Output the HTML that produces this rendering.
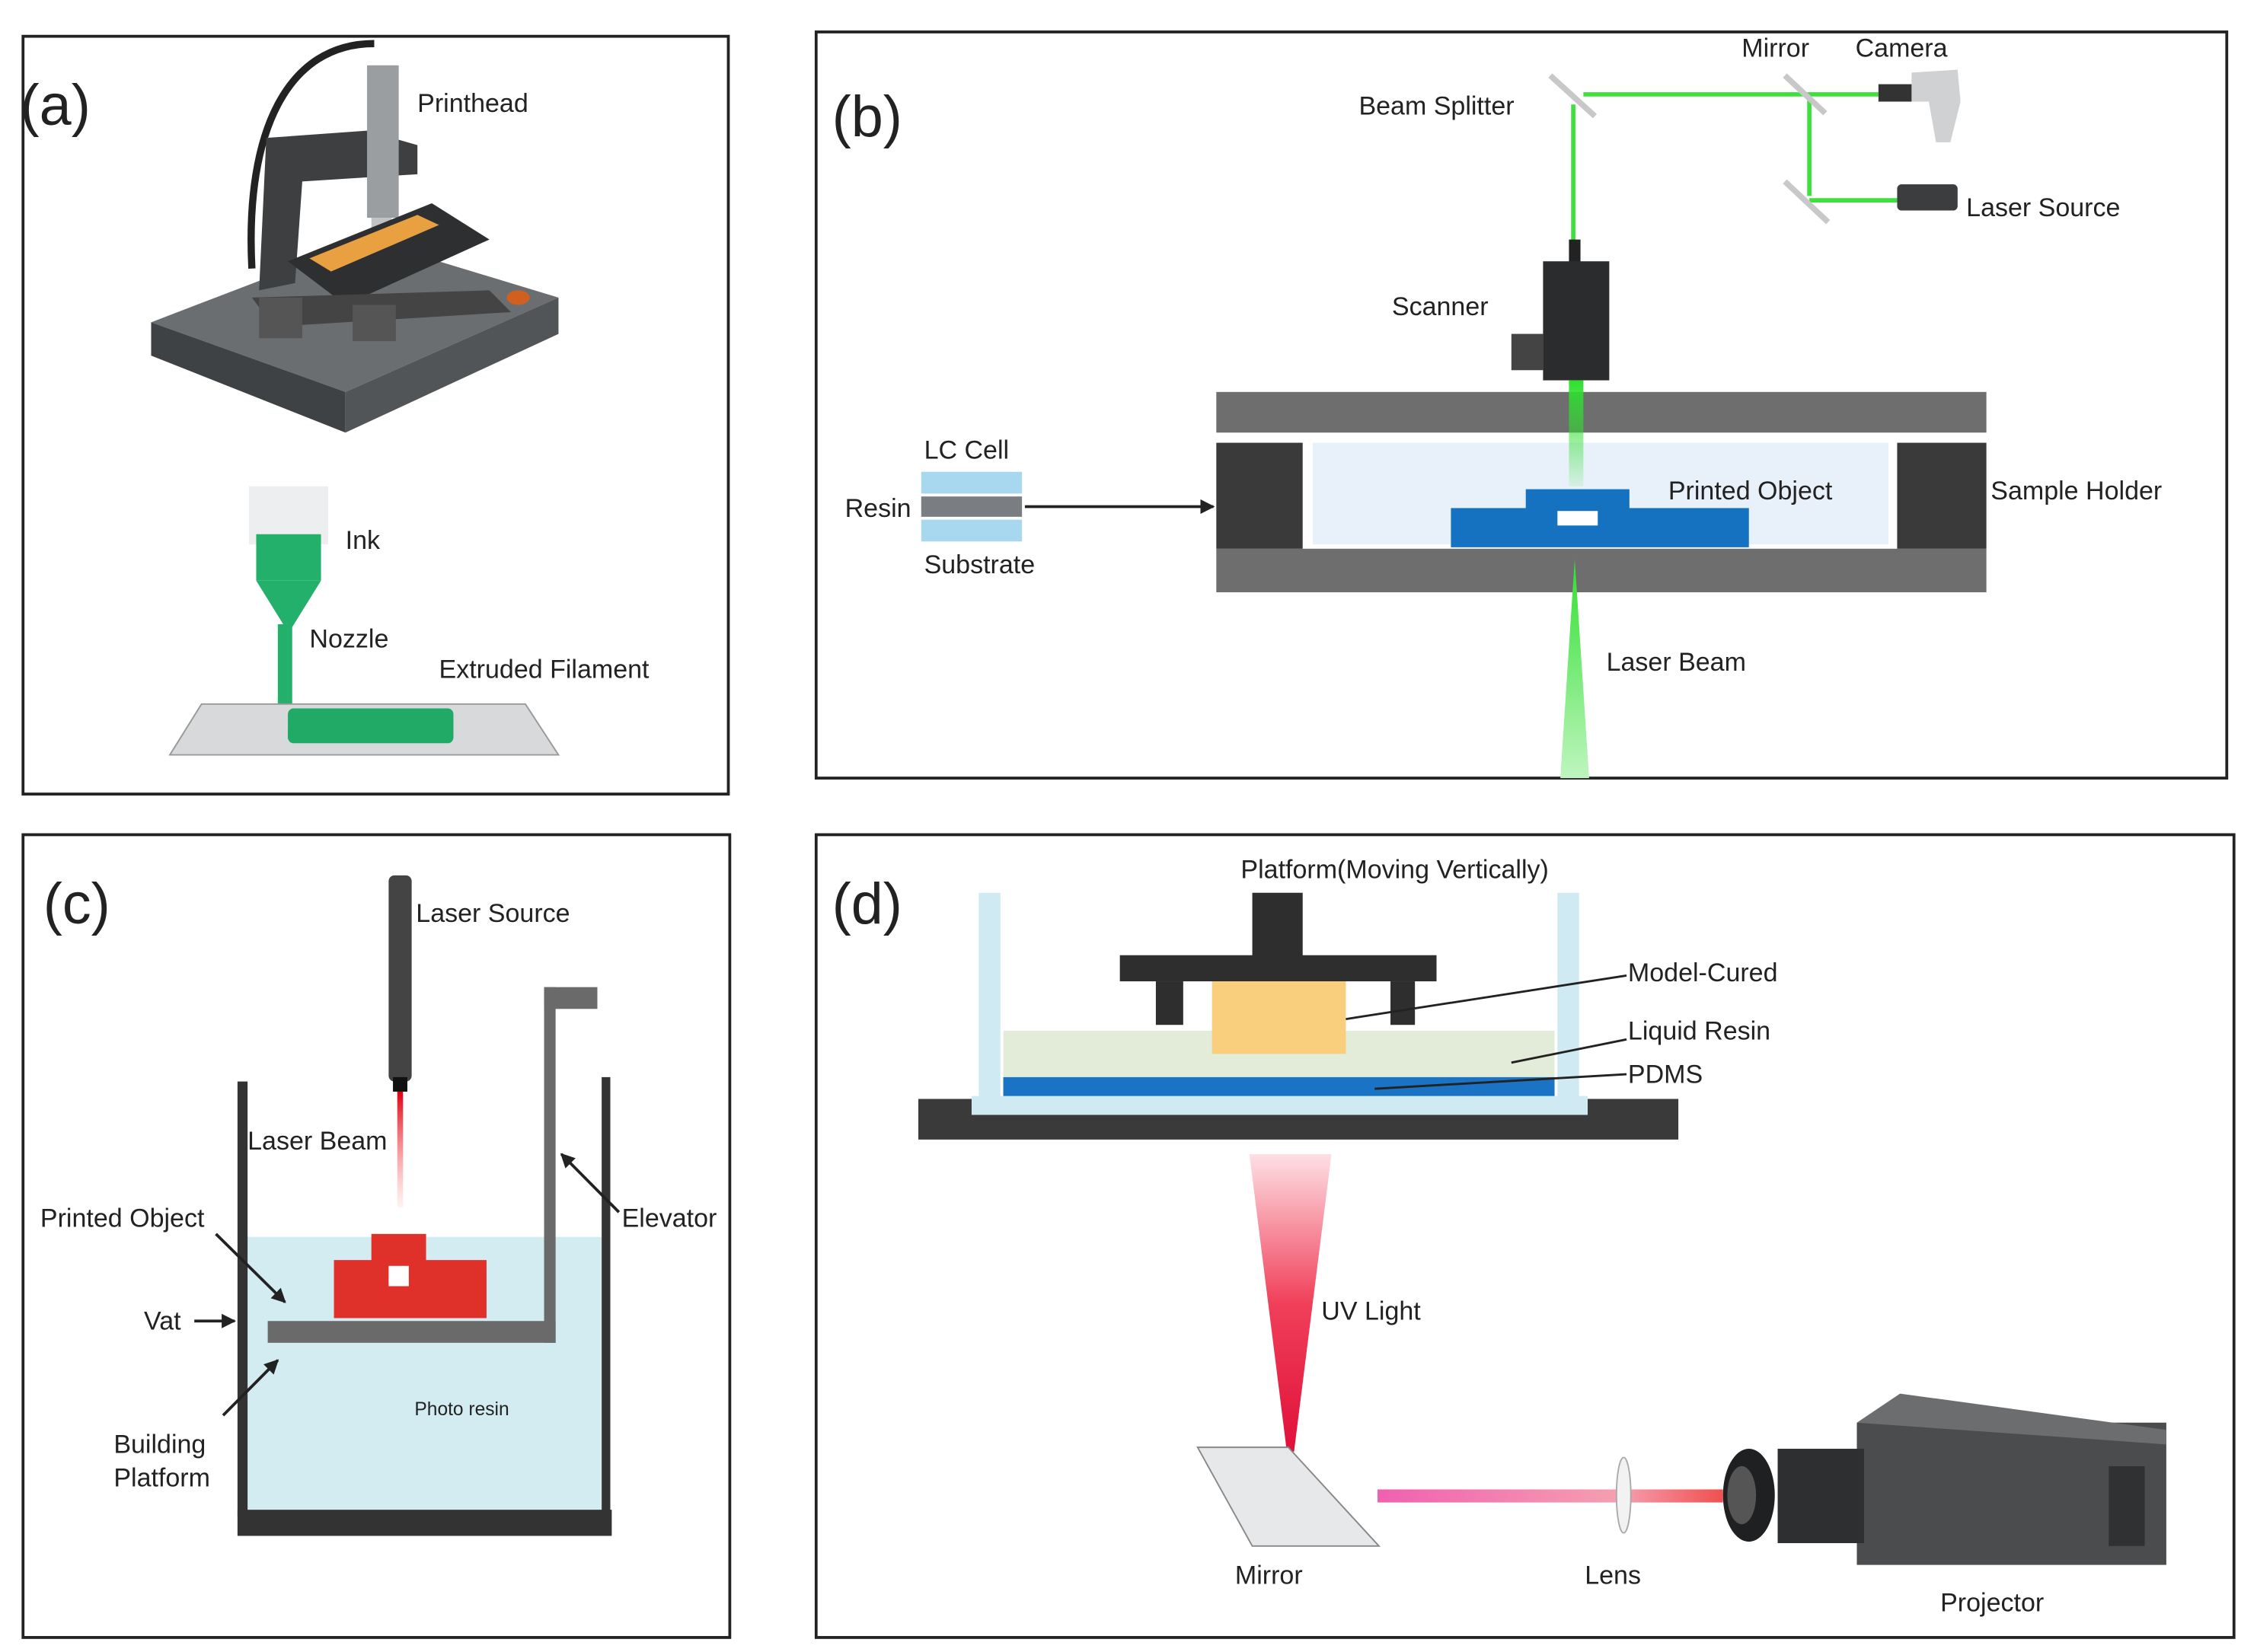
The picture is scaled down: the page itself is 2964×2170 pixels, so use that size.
<!DOCTYPE html>
<html><head><meta charset="utf-8"><style>
html,body{margin:0;padding:0;background:#fff}
svg{display:block}
text{font-family:"Liberation Sans",sans-serif;fill:#222}
</style></head><body>
<svg width="2964" height="2170" viewBox="0 0 1568 1138" preserveAspectRatio="none">
<defs>
<linearGradient id="gv" x1="0" y1="0" x2="0" y2="1"><stop offset="0" stop-color="#2ee02e"/><stop offset="1" stop-color="#2ee02e" stop-opacity="0.1"/></linearGradient>
<linearGradient id="gv2" x1="0" y1="0" x2="0" y2="1"><stop offset="0" stop-color="#2ee02e"/><stop offset="1" stop-color="#bff5bf"/></linearGradient>
<linearGradient id="uv" x1="0" y1="0" x2="0" y2="1"><stop offset="0" stop-color="#fde0e4"/><stop offset="0.5" stop-color="#f0405a"/><stop offset="1" stop-color="#e0103a"/></linearGradient>
<linearGradient id="pk" x1="0" y1="0" x2="1" y2="0"><stop offset="0" stop-color="#f060b0"/><stop offset="0.7" stop-color="#f5a0b0"/><stop offset="1" stop-color="#f05050"/></linearGradient>
<linearGradient id="rb" x1="0" y1="0" x2="0" y2="1"><stop offset="0" stop-color="#e00010"/><stop offset="1" stop-color="#ff8080" stop-opacity="0.1"/></linearGradient>
<marker id="ar" markerWidth="10" markerHeight="10" refX="9" refY="5" orient="auto" markerUnits="userSpaceOnUse"><path d="M0,0 L10,5 L0,10 z" fill="#222"/></marker>
</defs>
<g fill="none" stroke="#222" stroke-width="2">
<rect x="16" y="25" width="490" height="522"/>
<rect x="567" y="22" width="980" height="514"/>
<rect x="16" y="575" width="491" height="553"/>
<rect x="567" y="575" width="985" height="553"/>
</g>
<!-- (a) -->
<text x="14" y="86" font-size="40">(a)</text>
<polygon points="105,222 255,165 388,205 240,270" fill="#6b6e70"/>
<polygon points="105,222 240,270 240,298 105,245" fill="#3f4244"/>
<polygon points="240,270 388,205 388,230 240,298" fill="#525557"/>
<path d="M175,185 C170,90 200,30 260,30" stroke="#222" stroke-width="5" fill="none"/>
<polygon points="185,95 255,90 290,100 290,120 210,125 205,195 180,200" fill="#3d3f41"/>
<rect x="255" y="45" width="22" height="105" fill="#9a9ea0"/>
<rect x="258" y="150" width="14" height="25" fill="#c0c2c4"/>
<polygon points="200,180 300,140 340,165 240,210" fill="#2d2f31"/>
<polygon points="215,178 290,148 305,155 230,187" fill="#e8a040"/>
<polygon points="175,205 340,200 355,215 190,225" fill="#444"/>
<rect x="180" y="205" width="30" height="28" fill="#555"/>
<rect x="245" y="210" width="30" height="25" fill="#555"/>
<ellipse cx="360" cy="205" rx="8" ry="5" fill="#d06020"/>
<text x="290" y="77" font-size="18">Printhead</text>
<rect x="173" y="335" width="55" height="40" fill="#eceeef"/>
<rect x="178" y="368" width="45" height="32" fill="#22b06a"/>
<polygon points="178,400 223,400 203,432 198,432" fill="#22b06a"/>
<rect x="193" y="430" width="10" height="75" fill="#22b06a"/>
<polygon points="118,520 140,485 365,485 388,520" fill="#d8d9da" stroke="#999"/>
<path d="M200,505 L300,505 L300,498 L215,498" stroke="#1a9e5c" stroke-width="8" fill="none"/>
<rect x="200" y="488" width="115" height="24" fill="#20aa66" rx="4"/>
<text x="240" y="378" font-size="18">Ink</text>
<text x="215" y="446" font-size="18">Nozzle</text>
<text x="305" y="467" font-size="18">Extruded Filament</text>
<!-- (b) -->
<text x="578" y="94" font-size="40">(b)</text>
<g stroke="#3ee03e" stroke-width="3">
<line x1="1100" y1="65" x2="1305" y2="65"/>
<line x1="1093" y1="72" x2="1093" y2="170"/>
<line x1="1257" y1="65" x2="1257" y2="135"/>
<line x1="1257" y1="138" x2="1318" y2="138"/>
</g>
<g stroke="#c8c8c8" stroke-width="4">
<line x1="1077" y1="52" x2="1108" y2="80"/>
<line x1="1240" y1="52" x2="1268" y2="78"/>
<line x1="1240" y1="125" x2="1270" y2="153"/>
</g>
<rect x="1305" y="58" width="25" height="12" fill="#333"/>
<path d="M1328,50 L1360,48 L1362,70 L1355,98 L1345,98 L1340,70 L1328,70 z" fill="#cfd1d3"/>
<rect x="1318" y="127" width="42" height="18" fill="#3b3d3f" rx="3"/>
<rect x="1090" y="165" width="8" height="20" fill="#222"/>
<rect x="1072" y="180" width="46" height="82" fill="#2b2c2e"/>
<rect x="1050" y="230" width="22" height="25" fill="#444"/>
<rect x="845" y="270" width="535" height="28" fill="#6e6e6e"/>
<rect x="845" y="378" width="535" height="30" fill="#6e6e6e"/>
<rect x="845" y="305" width="60" height="73" fill="#3a3a3a"/>
<rect x="1318" y="305" width="62" height="73" fill="#3a3a3a"/>
<rect x="912" y="305" width="400" height="70" fill="#e8f1fa"/>
<rect x="1090" y="262" width="10" height="73" fill="url(#gv)"/>
<rect x="1008" y="350" width="207" height="27" fill="#1472c0"/>
<rect x="1060" y="337" width="72" height="14" fill="#1472c0"/>
<rect x="1082" y="352" width="28" height="10" fill="#fff"/>
<polygon points="1094,385 1104,536 1084,536" fill="url(#gv2)"/>
<rect x="640" y="325" width="70" height="15" fill="#a8d8f0"/>
<rect x="640" y="342" width="70" height="14" fill="#7a7e82"/>
<rect x="640" y="358" width="70" height="15" fill="#a8d8f0"/>
<line x1="712" y1="349" x2="843" y2="349" stroke="#222" stroke-width="2" marker-end="url(#ar)"/>
<g font-size="18">
<text x="944" y="79">Beam Splitter</text>
<text x="1210" y="39">Mirror</text>
<text x="1289" y="39">Camera</text>
<text x="1366" y="149">Laser Source</text>
<text x="967" y="217">Scanner</text>
<text x="642" y="316">LC Cell</text>
<text x="587" y="356">Resin</text>
<text x="642" y="395">Substrate</text>
<text x="1159" y="344">Printed Object</text>
<text x="1383" y="344">Sample Holder</text>
<text x="1116" y="462">Laser Beam</text>
</g>
<!-- (c) -->
<text x="30" y="636" font-size="40">(c)</text>
<rect x="172" y="852" width="246" height="188" fill="#d3ecf2"/>
<rect x="165" y="745" width="7" height="300" fill="#333"/>
<rect x="418" y="742" width="6" height="303" fill="#333"/>
<rect x="165" y="1040" width="260" height="18" fill="#333"/>
<rect x="378" y="680" width="8" height="245" fill="#6a6a6a"/>
<rect x="378" y="680" width="37" height="15" fill="#6a6a6a"/>
<rect x="186" y="910" width="200" height="15" fill="#6a6a6a"/>
<rect x="232" y="868" width="106" height="40" fill="#e0302a"/>
<rect x="258" y="850" width="38" height="20" fill="#e0302a"/>
<rect x="270" y="872" width="14" height="14" fill="#fff"/>
<rect x="270" y="603" width="16" height="142" fill="#444" rx="4"/>
<rect x="273" y="742" width="10" height="10" fill="#111"/>
<rect x="276" y="752" width="4" height="80" fill="url(#rb)"/>
<g stroke="#222" stroke-width="2">
<line x1="135" y1="910" x2="163" y2="910" marker-end="url(#ar)"/>
<line x1="150" y1="850" x2="198" y2="897" marker-end="url(#ar)"/>
<line x1="155" y1="975" x2="193" y2="937" marker-end="url(#ar)"/>
<line x1="430" y1="835" x2="390" y2="795" marker-end="url(#ar)"/>
</g>
<g font-size="18">
<text x="289" y="635">Laser Source</text>
<text x="172" y="792">Laser Beam</text>
<text x="28" y="845">Printed Object</text>
<text x="432" y="845">Elevator</text>
<text x="100" y="916">Vat</text>
<text x="79" y="1001">Building</text>
<text x="79" y="1024">Platform</text>
<text x="288" y="975" font-size="13">Photo resin</text>
</g>
<!-- (d) -->
<text x="578" y="636" font-size="40">(d)</text>
<rect x="638" y="757" width="528" height="28" fill="#3a3a3a"/>
<rect x="675" y="755" width="428" height="13" fill="#cfeaf2"/>
<rect x="680" y="615" width="15" height="145" fill="#cfeaf2"/>
<rect x="1082" y="615" width="15" height="145" fill="#cfeaf2"/>
<rect x="697" y="710" width="383" height="32" fill="#e3ecd9"/>
<rect x="697" y="742" width="383" height="13" fill="#1a73c4"/>
<rect x="870" y="615" width="35" height="45" fill="#2e2e2e"/>
<rect x="778" y="658" width="220" height="18" fill="#2e2e2e"/>
<rect x="803" y="676" width="19" height="30" fill="#2e2e2e"/>
<rect x="966" y="676" width="17" height="30" fill="#2e2e2e"/>
<rect x="842" y="676" width="93" height="50" fill="#f9cf7e"/>
<g stroke="#222" stroke-width="1.5">
<line x1="935" y1="702" x2="1130" y2="672"/>
<line x1="1050" y1="732" x2="1130" y2="716"/>
<line x1="955" y1="750" x2="1130" y2="740"/>
</g>
<polygon points="868,795 925,795 899,1000 894,1000" fill="url(#uv)"/>
<polygon points="832,997 895,997 958,1065 870,1065" fill="#e6e8ea" stroke="#888"/>
<rect x="957" y="1026" width="240" height="9" fill="url(#pk)"/>
<ellipse cx="1128" cy="1030" rx="5" ry="26" fill="#f2f2f2" stroke="#aaa"/>
<rect x="1290" y="980" width="215" height="98" fill="#4a4c4e"/>
<polygon points="1290,980 1320,960 1505,985 1505,995" fill="#6b6d6f"/>
<rect x="1465" y="1010" width="25" height="55" fill="#2f3133"/>
<rect x="1235" y="998" width="60" height="65" fill="#2d2f31"/>
<ellipse cx="1215" cy="1030" rx="18" ry="32" fill="#1e2022"/>
<ellipse cx="1210" cy="1030" rx="10" ry="20" fill="#555"/>
<g font-size="18">
<text x="862" y="605">Platform(Moving Vertically)</text>
<text x="1131" y="676">Model-Cured</text>
<text x="1131" y="716">Liquid Resin</text>
<text x="1131" y="746">PDMS</text>
<text x="918" y="909">UV Light</text>
<text x="858" y="1091">Mirror</text>
<text x="1101" y="1091">Lens</text>
<text x="1348" y="1110">Projector</text>
</g>
</svg>
</body></html>
